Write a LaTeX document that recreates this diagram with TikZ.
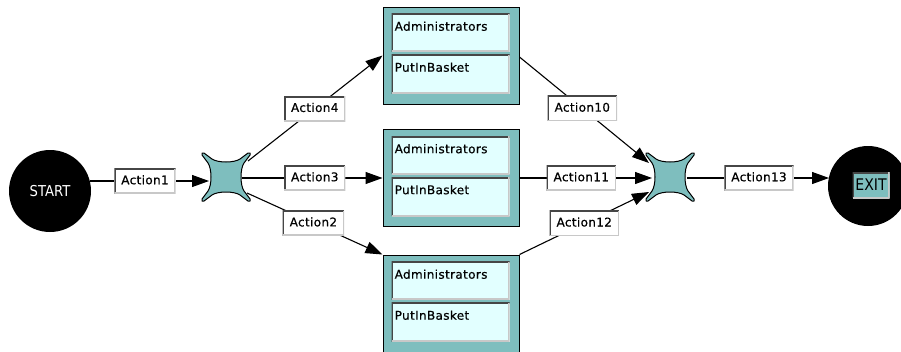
\documentclass[tikz,border=0pt]{standalone}
\usepackage{fontspec}
\setmainfont{DejaVu Sans}
\newfontfamily\lblfont[LetterSpace=3,FakeBold=0.6]{DejaVu Sans}
\newfontfamily\termfont[FakeStretch=0.88]{DejaVu Sans}
\usetikzlibrary{arrows.meta,calc}

\definecolor{gwteal}{RGB}{126,190,190}
\definecolor{cellfill}{RGB}{226,255,255}
\definecolor{bevdark}{RGB}{70,70,70}
\definecolor{bevlight}{RGB}{200,200,200}

\tikzset{
  % sunken bevel: dark top/left edge, light bottom/right edge
  sunken/.style={path picture={
    \draw[-, bevdark, line width=3pt]
      (path picture bounding box.south west) -- (path picture bounding box.north west)
      -- (path picture bounding box.north east);
    \draw[-, bevlight, line width=2.5pt]
      (path picture bounding box.north east) -- (path picture bounding box.south east)
      -- (path picture bounding box.south west);
  }},
  lbl/.style={sunken, fill=white, inner xsep=7pt, inner ysep=0pt,
    minimum height=25pt, text height=9pt, text depth=2.5pt,
    font={\lblfont\fontsize{12pt}{13pt}\selectfont}},
  taskbox/.style={draw=black, line width=1pt, fill=gwteal,
    minimum width=136pt, minimum height=97pt, inner sep=0pt},
  cell/.style={sunken, fill=cellfill, anchor=north west, inner xsep=3pt,
    inner ysep=0pt, text width=112pt, align=left, text height=17pt,
    font={\lblfont\fontsize{12pt}{13pt}\selectfont}},
  gw/.style={minimum size=48pt, inner sep=0pt, outer sep=0pt},
  terminal/.style={circle, fill=black, minimum size=82pt, inner sep=0pt},
  flow/.style={line width=1.1pt, -{Triangle[length=17pt,width=12pt]}},
}

% gateway outline: a square whose four sides carry a rounded notch
\newcommand\gwshape[1]{%
  \draw[fill=gwteal, line width=1pt, line join=round]
    (#1.north west) -- ($(#1.north west)+(2,0)$) -- ($(#1.north west)+(10,6)$)
      .. controls ($(#1.north west)+(16,10)$) and ($(#1.north east)+(-16,10)$) .. ($(#1.north east)+(-10,6)$)
      -- ($(#1.north east)+(-2,0)$) -- (#1.north east)
    -- ($(#1.north east)+(0,2)$) -- ($(#1.north east)+(-6,10)$)
      .. controls ($(#1.north east)+(-10,16)$) and ($(#1.south east)+(-10,-16)$) .. ($(#1.south east)+(-6,-10)$)
      -- ($(#1.south east)+(0,-2)$) -- (#1.south east)
    -- ($(#1.south east)+(-2,0)$) -- ($(#1.south east)+(-10,-6)$)
      .. controls ($(#1.south east)+(-16,-10)$) and ($(#1.south west)+(16,-10)$) .. ($(#1.south west)+(10,-6)$)
      -- ($(#1.south west)+(2,0)$) -- (#1.south west)
    -- ($(#1.south west)+(0,-2)$) -- ($(#1.south west)+(6,-10)$)
      .. controls ($(#1.south west)+(10,-16)$) and ($(#1.north west)+(10,16)$) .. ($(#1.north west)+(6,10)$)
      -- ($(#1.north west)+(0,2)$) -- cycle;}

% task box with its two inner cells
\newcommand\taskbox[2]{%
  \node[taskbox] (#1) at #2 {};
  \node[cell, text depth=21pt] (#1adm) at ($(#1.north west)+(9,7)$) {Administrators};
  \node[cell, text depth=22pt] (#1put) at ($(#1.north west)+(9,48)$) {PutInBasket};}

\begin{document}
\begin{tikzpicture}[x=1pt,y=-1pt]
\useasboundingbox (0,0) rectangle (901,351);

% start and end
\node[terminal, text=white, font={\termfont\fontsize{15pt}{16pt}\selectfont}] (start) at (50,191) {START};
\node[terminal, minimum size=80pt] (endc) at (868,186) {};
\node[sunken, fill=gwteal, minimum width=37pt, minimum height=26pt, inner sep=0pt,
      font={\termfont\fontsize{16pt}{17pt}\selectfont}] (exitlbl) at (871,185) {EXIT};

% gateways
\node[gw] (x1) at (226,177) {};
\node[gw] (x2) at (670,177) {};
\gwshape{x1}
\gwshape{x2}

% tasks
\taskbox{t1}{(451,55.5)}
\taskbox{t2}{(451,178)}
\taskbox{t3}{(451,303.5)}

% connectors with their action labels
\draw[flow] ($(start.center)+(40,-10)$) -- node[lbl, pos=0.462] (a1) {Action1} ($(x1.west)+(7,4)$);
\draw[flow] ($(x1.north east)+(-2,8)$) -- node[lbl, pos=0.496] (a4) {Action4} (t1.west);
\draw[flow] ($(x1.east)+(-8,1)$) -- node[lbl, pos=0.518] (a3) {Action3} (t2.west);
\draw[flow] ($(x1.south east)+(-3,-8)$) -- node[lbl, pos=0.49] (a2) {Action2} (t3.north west);
\draw[flow] ($(t1.east)+(0,1.5)$) -- node[lbl, pos=0.485] (a10) {Action10} ($(x2.north west)+(3,10)$);
\draw[flow] (t2.east) -- node[lbl, pos=0.466] (a11) {Action11} ($(x2.west)+(6,1)$);
\draw[flow] (t3.north east) -- node[lbl, pos=0.5] (a12) {Action12} ($(x2.south west)+(3,-9)$);
\draw[flow] ($(x2.east)+(-7,1)$) -- node[lbl, pos=0.507] (a13) {Action13} ($(endc.center)+(-39,-8)$);
\end{tikzpicture}
\end{document}
